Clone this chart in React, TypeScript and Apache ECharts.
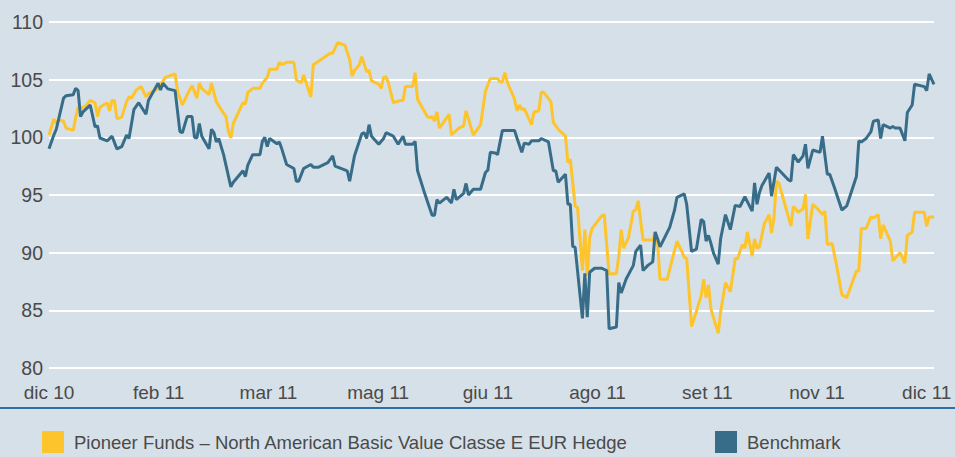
import React, { useEffect, useRef } from "react";
import * as echarts from "echarts";

// x = calendar day offset from start of period (0 .. 365)
const fundDays = [0,2,3,4,6,7,10,11,12,13,15,17,19,20,21,24,25,26,27,28,30,32,33,34,36,38,40,41,44,45,48,52,53,55,57,59,61,62,63,66,67,69,71,73,74,75,76,80,81,82,84,87,88,90,91,94,95,96,98,101,102,104,105,108,109,116,117,119,122,124,125,126,128,129,131,132,133,136,137,138,139,140,142,145,146,147,150,151,152,156,157,158,159,160,161,165,166,169,171,172,173,175,178,180,182,185,186,187,188,189,192,193,194,195,196,199,200,202,203,204,207,208,210,213,214,215,217,218,220,221,222,223,224,228,229,231,234,235,236,237,239,241,242,243,245,249,250,251,252,255,257,259,261,262,263,265,267,269,270,271,272,273,276,277,279,281,283,284,286,287,288,290,291,292,293,295,297,298,299,300,301,306,307,309,311,312,313,315,317,319,320,321,323,325,327,329,333,334,335,337,339,340,342,343,344,347,348,351,353,354,356,357,361,362,363,365];
const fundValues = [100.2,101.6,101.2,101.5,101.4,100.8,100.6,101.7,102.6,102.5,102.7,103.2,103.0,101.8,102.6,103.0,102.3,103.2,103.2,101.6,101.75,103.1,103.5,103.4,104.1,104.4,103.5,103.8,104.1,104.25,105.2,105.5,104.0,102.8,103.7,104.5,103.4,104.7,104.25,103.7,104.7,103.1,102.4,101.8,100.5,99.94,101.2,103.0,102.9,103.9,104.25,104.25,104.7,105.2,105.9,105.9,106.5,106.3,106.5,106.5,105.0,104.7,105.4,103.5,106.3,107.3,107.3,108.2,108.0,106.75,105.3,105.8,106.3,107.0,105.7,105.8,104.9,104.6,104.25,105.2,105.25,104.7,103.0,103.2,103.2,104.4,104.4,105.6,103.3,101.8,101.7,101.8,101.4,102.2,100.8,102.0,100.2,100.8,101.0,102.3,101.6,100.2,101.1,104.0,105.1,105.1,104.8,104.8,105.6,104.8,103.3,102.3,102.8,102.4,102.5,101.1,102.2,102.3,103.9,103.9,103.1,101.3,100.7,100.1,97.8,98.1,94.05,93.9,88.45,92.0,88.0,91.3,92.1,93.2,93.3,88.15,88.2,89.7,92.0,90.4,91.3,93.6,93.7,94.5,91.1,91.1,91.75,90.8,87.7,87.7,89.4,91.0,90.1,89.6,89.5,83.6,84.9,86.3,87.7,86.1,87.2,85.1,83.0,84.85,87.4,86.6,89.5,89.5,90.7,90.4,91.8,89.7,91.2,90.4,90.5,92.5,93.3,91.7,93.0,96.2,96.05,92.3,94.0,93.5,93.8,95.05,91.2,94.2,93.8,93.3,93.6,90.7,90.8,88.7,86.35,86.1,88.4,88.4,92.1,92.1,93.1,93.0,93.3,91.2,92.4,91.0,89.3,90.0,89.1,91.5,91.8,93.5,93.5,92.3,93.1,93.1];

const benchDays = [0,2,3,6,7,10,11,12,13,14,17,19,20,21,24,26,28,30,32,33,35,37,40,41,45,46,47,49,52,54,55,57,59,60,61,62,63,66,67,68,69,70,72,75,76,80,81,82,84,87,88,89,90,91,94,95,96,98,101,102,103,105,108,109,111,115,117,118,123,124,126,129,130,131,132,133,136,138,139,142,144,146,147,150,151,152,155,158,159,160,161,164,166,167,168,171,172,173,175,178,180,181,182,184,185,187,192,193,195,196,198,199,202,203,206,208,209,210,213,214,215,216,217,220,221,222,223,225,228,230,231,234,235,236,238,241,242,244,245,247,249,250,251,252,256,258,259,262,263,265,267,269,270,271,272,273,274,276,277,279,281,283,285,287,290,291,292,293,294,297,298,300,305,306,307,309,311,312,313,315,318,319,321,322,324,327,329,333,334,335,337,339,340,342,343,344,347,348,349,351,353,354,356,357,361,362,363,365];
const benchValues = [99.0,100.2,100.7,103.4,103.6,103.7,104.25,104.05,101.8,102.2,102.8,100.9,101.0,99.94,99.7,100.1,99.0,99.2,100.2,99.9,102.4,103.0,102.0,103.2,104.7,104.1,104.7,104.2,104.05,100.5,100.4,101.8,101.8,100.0,99.94,101.2,100.1,99.0,100.7,100.4,99.6,99.9,98.5,95.7,96.1,97.1,96.6,97.6,98.5,98.5,99.65,100.0,99.2,99.9,99.45,99.6,99.0,97.65,97.3,96.2,96.2,97.3,97.65,97.4,97.4,97.8,98.4,97.5,97.1,96.2,98.4,100.3,100.4,99.9,101.1,100.1,99.4,99.9,100.4,100.1,99.4,100.1,99.4,99.4,99.65,97.1,95.1,93.25,93.25,94.6,94.3,94.8,94.3,95.5,94.6,95.15,96.0,95.0,95.5,95.5,96.95,97.15,98.7,98.65,98.5,100.6,100.6,99.94,98.7,99.5,99.4,99.7,99.7,99.9,99.6,97.1,97.1,96.1,96.8,94.2,94.2,90.55,90.45,84.3,88.2,84.4,88.3,88.65,88.65,88.45,83.4,83.55,87.4,86.5,87.7,88.9,90.1,90.65,88.45,88.9,89.2,91.8,91.2,90.5,92.2,93.7,94.8,95.1,94.2,90.1,90.3,92.9,92.7,91.0,91.5,90.8,90.0,89.0,91.2,93.3,92.0,94.1,94.0,94.85,93.6,96.05,94.2,95.2,95.8,96.9,94.9,97.4,96.3,96.2,98.5,97.85,98.4,99.4,97.3,98.9,98.7,100.1,96.8,96.8,95.6,93.7,94.05,96.6,99.7,99.6,99.9,100.5,101.4,101.5,99.9,101.1,100.8,100.95,100.8,100.8,99.7,102.15,102.8,104.6,104.4,104.05,105.5,104.6];

const xTickLabels = ["dic 10", "feb 11", "mar 11", "mag 11", "giu 11", "ago 11", "set 11", "nov 11", "dic 11"];
const xTickStep = 45.25;
const seriesNames = ["Pioneer Funds \u2013 North American Basic Value Classe E EUR Hedge", "Benchmark"];

const FONT = "'Liberation Sans', Arial, sans-serif";
const YELLOW = "#fdc42c";
const BLUE = "#386d89";
const TEXT = "#4a4a4a";

function zip(xs: number[], ys: number[]) {
  return xs.map((x, i) => [x, ys[i]]);
}

export default function App() {
  const ref = useRef<HTMLDivElement>(null);
  useEffect(() => {
    if (!ref.current) return;
    const chart = echarts.init(ref.current, null, { renderer: "svg" });
    const legendBase = {
      top: 431,
      padding: 0,
      itemWidth: 22,
      itemHeight: 22,
      itemGap: 0,
      icon: "rect",
      textStyle: { color: TEXT, fontFamily: FONT, fontSize: 18.5, padding: [2, 0, 0, 5] },
    };
    chart.setOption({
      animation: false,
      backgroundColor: "#d6e0e8",
      grid: { left: 49, right: 21, top: 22, bottom: 89, containLabel: false },
      xAxis: {
        type: "value",
        min: 0,
        max: 365,
        interval: xTickStep,
        axisLine: { show: false },
        axisTick: { show: false },
        splitLine: { show: false },
        axisLabel: {
          color: TEXT,
          fontFamily: FONT,
          fontSize: 19,
          margin: 15,
          formatter: (v: number) => {
            const k = v / xTickStep;
            const r = Math.round(k);
            return Math.abs(k - r) < 0.01 ? xTickLabels[r] || "" : "";
          },
        },
      },
      yAxis: {
        type: "value",
        min: 80,
        max: 110,
        interval: 5,
        axisLine: { show: false },
        axisTick: { show: false },
        splitLine: { lineStyle: { color: "#ffffff", width: 2 } },
        axisLabel: { color: TEXT, fontFamily: FONT, fontSize: 19.5, margin: 6 },
      },
      legend: [
        { ...legendBase, data: [seriesNames[0]], left: 42 },
        { ...legendBase, data: [seriesNames[1]], left: 715 },
      ],
      graphic: [
        {
          type: "rect",
          shape: { x: 0, y: 407, width: 955, height: 2 },
          style: { fill: "#2f6fa5" },
          silent: true,
        },
      ],
      series: [
        {
          name: seriesNames[0],
          type: "line",
          data: zip(fundDays, fundValues),
          showSymbol: false,
          symbol: "none",
          lineStyle: { color: YELLOW, width: 3 },
          itemStyle: { color: YELLOW },
        },
        {
          name: seriesNames[1],
          type: "line",
          data: zip(benchDays, benchValues),
          showSymbol: false,
          symbol: "none",
          lineStyle: { color: BLUE, width: 3 },
          itemStyle: { color: BLUE },
        },
      ],
    });
    return () => chart.dispose();
  }, []);
  return (
    <div
      ref={ref}
      style={{ position: "fixed", left: 0, top: 0, width: 955, height: 457 }}
    />
  );
}
